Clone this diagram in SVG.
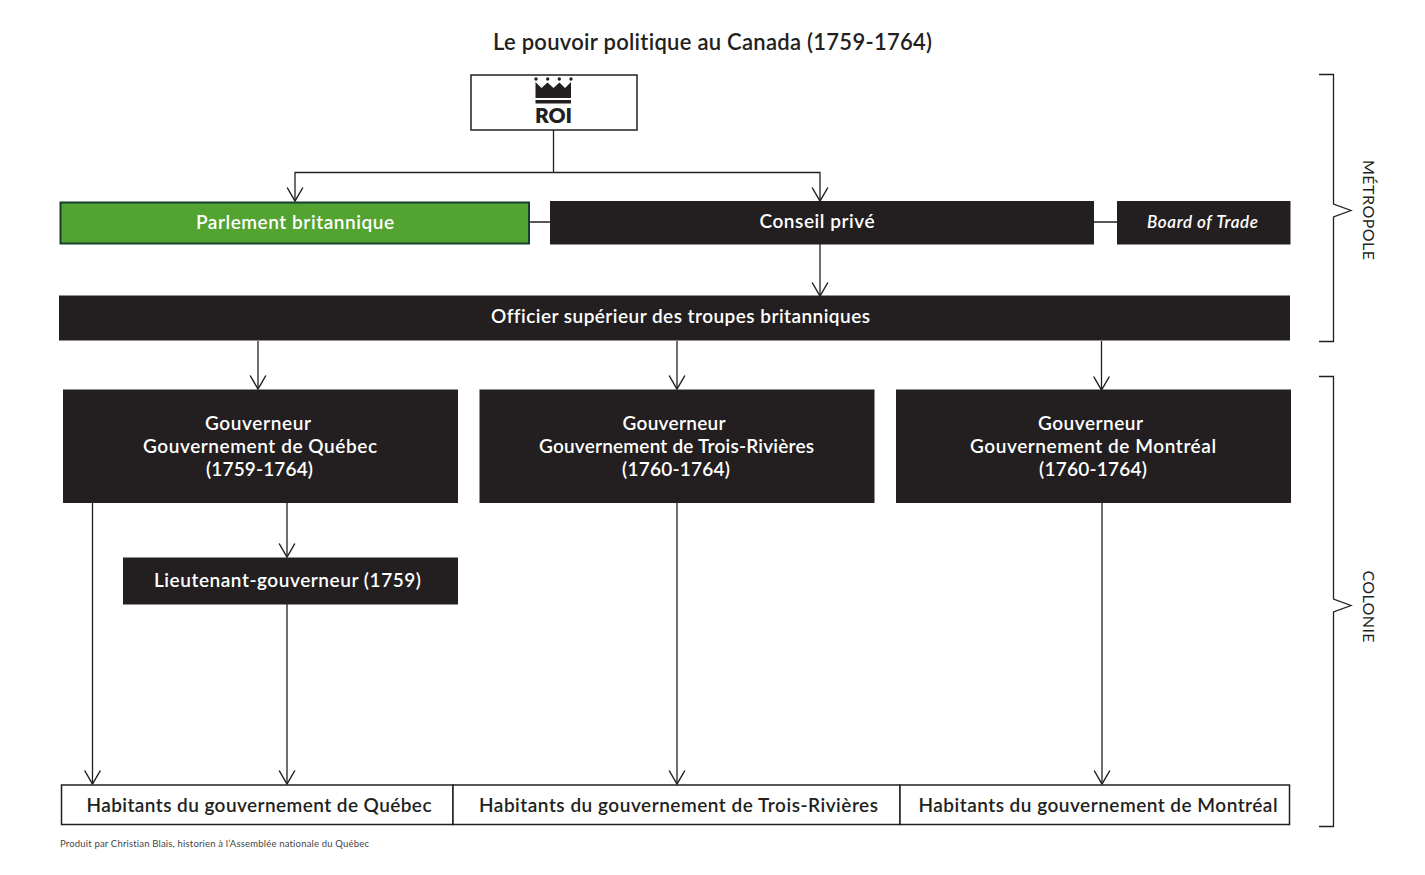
<svg xmlns="http://www.w3.org/2000/svg" width="1425" height="875" viewBox="0 0 1425 875">
<style>
text{font-family:"Lato","Open Sans","Liberation Sans",sans-serif;text-anchor:middle;font-size:19px;font-weight:600;font-variant-ligatures:none}
.w{fill:#fff}.k{fill:#231f20}
.box{fill:#231f20}
.ln{fill:none;stroke:#231f20;stroke-width:1.3}
.arr{fill:none;stroke:#231f20;stroke-width:1.3;marker-end:url(#a)}
.out{fill:#fff;stroke:#231f20;stroke-width:1.5}
</style>
<defs><marker id="a" markerUnits="userSpaceOnUse" markerWidth="18" markerHeight="18" refX="15" refY="8" orient="auto" viewBox="0 0 16 16" overflow="visible"><path d="M3 1L15 8L3 15" fill="none" stroke="#231f20" stroke-width="1.3"/></marker></defs>
<rect width="1425" height="875" fill="#fff"/>
<text id="title" class="k" x="712.5" y="50" textLength="439" style="font-size:22px">Le pouvoir politique au Canada (1759-1764)</text>
<g id="connectors">
<path class="ln" d="M553.5 130V172.500"/>
<path class="arr" d="M553.5 172.500H295V201"/>
<path class="arr" d="M553.5 172.500H820V201"/>
<path class="ln" d="M530 222H550M1094 222H1117"/>
<path class="arr" d="M820 244V296"/>
<path class="arr" d="M258 341V389"/>
<path class="arr" d="M677 341V389"/>
<path class="arr" d="M1101.500 341V390"/>
<path class="arr" d="M92.500 503V784"/>
<path class="arr" d="M287 503V557"/>
<path class="arr" d="M287 604V784"/>
<path class="arr" d="M677 503V784"/>
<path class="arr" d="M1102 503V784"/>
<path class="ln" d="M1319 74.500H1333.500V204L1351 210.500L1333.500 217V341.500H1319M1319 376.500H1333.500V599L1351 605.500L1333.500 612V826.500H1319"/>
</g>
<g id="roi"><rect class="out" x="471" y="75" width="166" height="55"/>
<path class="k" d="M535.500 82L541.500 88L547.500 82.500L553.500 88L559.500 82.500L565 88L571 82V98H535.500ZM535.500 100H571V103.500H535.500Z"/>
<circle class="k" cx="536" cy="79" r="1.700"/><circle class="k" cx="547.700" cy="79" r="1.700"/><circle class="k" cx="559.300" cy="79" r="1.700"/><circle class="k" cx="571" cy="79" r="1.700"/>
<text class="k" x="553.500" y="123" textLength="37" style="font-size:21px;font-weight:800">ROI</text></g>
<g id="parlement"><rect x="60.500" y="202.500" width="468.500" height="41" fill="#52a32f" stroke="#173f2d" stroke-width="2"/><text class="w" x="295" y="229" textLength="198">Parlement britannique</text></g>
<g id="conseil"><rect class="box" x="550" y="201" width="544" height="43.500"/><text class="w" x="817" y="228" textLength="115">Conseil privé</text></g>
<g id="board"><rect class="box" x="1117" y="201" width="173.500" height="43.500"/><text class="w" x="1202.500" y="228" textLength="111" style="font-size:17px;font-style:italic">Board of Trade</text></g>
<g id="officier"><rect class="box" x="59" y="295.500" width="1231" height="45"/><text class="w" x="680.500" y="323" textLength="379">Officier supérieur des troupes britanniques</text></g>
<g id="gouv-quebec"><rect class="box" x="63" y="389.500" width="395" height="113.500"/>
<text class="w"><tspan x="258" y="430" textLength="106">Gouverneur</tspan><tspan x="260" y="453" textLength="234">Gouvernement de Québec</tspan><tspan x="259.500" y="476" textLength="107">(1759-1764)</tspan></text></g>
<g id="gouv-trois"><rect class="box" x="479.500" y="389.500" width="395" height="113.500"/>
<text class="w"><tspan x="674" y="430" textLength="103">Gouverneur</tspan><tspan x="676.500" y="453" textLength="275">Gouvernement de Trois-Rivières</tspan><tspan x="676" y="476" textLength="108">(1760-1764)</tspan></text></g>
<g id="gouv-montreal"><rect class="box" x="896" y="389.500" width="395" height="113.500"/>
<text class="w"><tspan x="1090.500" y="430" textLength="105">Gouverneur</tspan><tspan x="1093" y="453" textLength="246">Gouvernement de Montréal</tspan><tspan x="1093" y="476" textLength="108">(1760-1764)</tspan></text></g>
<g id="lieutenant"><rect class="box" x="123" y="557.500" width="335" height="47"/><text class="w" x="287.500" y="587" textLength="267">Lieutenant-gouverneur (1759)</text></g>
<g id="habitants-quebec"><rect class="out" x="61.500" y="785" width="391.500" height="39.500"/><text class="k" x="259" y="812" textLength="345">Habitants du gouvernement de Québec</text></g>
<g id="habitants-trois"><rect class="out" x="453" y="785" width="447" height="39.500"/><text class="k" x="678.500" y="812" textLength="399">Habitants du gouvernement de Trois-Rivières</text></g>
<g id="habitants-montreal"><rect class="out" x="900" y="785" width="389.500" height="39.500"/><text class="k" x="1098" y="812" textLength="359">Habitants du gouvernement de Montréal</text></g>
<text id="metropole" class="k" transform="translate(1363 210) rotate(90)" textLength="100" style="font-size:16px;font-weight:400">MÉTROPOLE</text>
<text id="colonie" class="k" transform="translate(1363 606.500) rotate(90)" textLength="72" style="font-size:16px;font-weight:400">COLONIE</text>
<text id="credit" class="k" x="214.500" y="847" textLength="309" style="font-size:9.500px;font-weight:400;fill:#444">Produit par Christian Blais, historien à l’Assemblée nationale du Québec</text>
</svg>
